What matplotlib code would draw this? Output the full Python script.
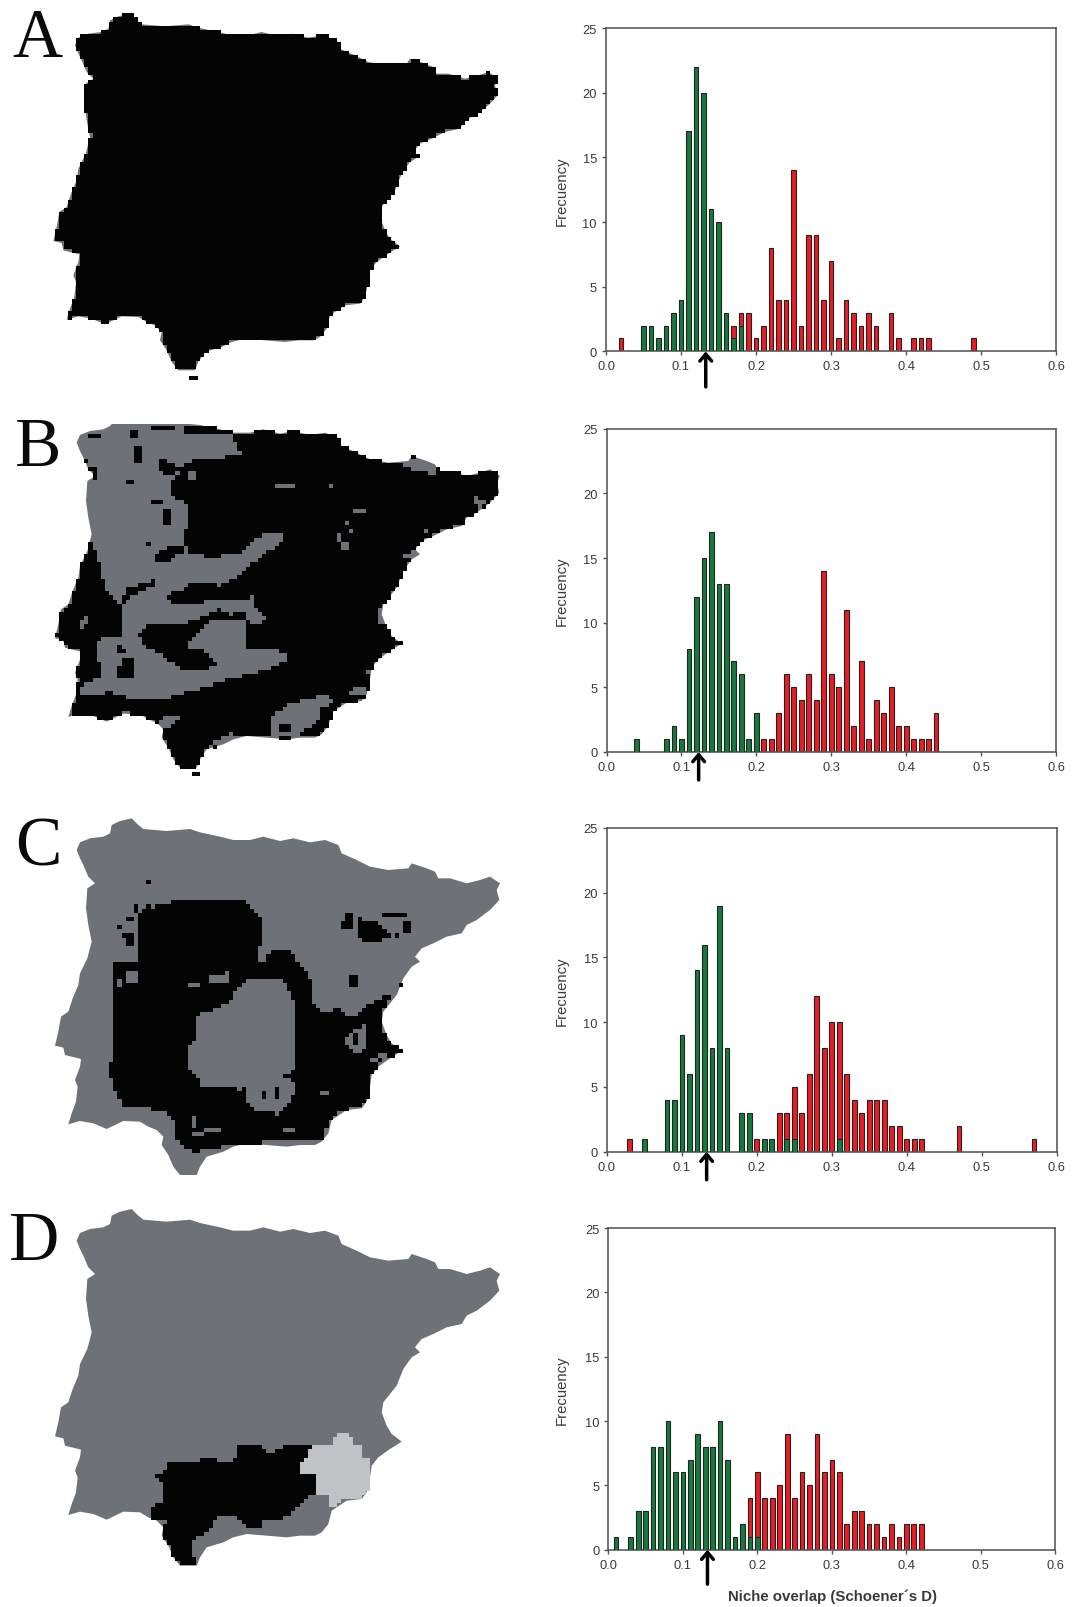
import numpy as np
import matplotlib
matplotlib.use("Agg")
import matplotlib.pyplot as plt
from matplotlib.patches import Polygon, Rectangle
from matplotlib.path import Path

plt.rcParams['font.family'] = ['Liberation Sans', 'DejaVu Sans']

# ---------- histogram data (overlap bin, count) ----------
a_green_x = [.05,.06,.07,.08,.09,.10,.11,.12,.13,.14,.15,.16,.17,.18]
a_green_y = [2,2,1,2,3,4,17,22,20,11,10,3,1,2]
a_red_x = [.02,.17,.18,.19,.20,.21,.22,.23,.24,.25,.26,.27,.28,.29,.30,.31,.32,.33,.34,.35,.36,.38,.39,.41,.42,.43,.49]
a_red_y = [1,2,3,3,1,2,8,4,4,14,2,9,9,4,7,1,4,3,2,3,2,3,1,1,1,1,1]

b_green_x = [.04,.08,.09,.10,.11,.12,.13,.14,.15,.16,.17,.18,.19,.20]
b_green_y = [1,1,2,1,8,12,15,17,13,13,7,6,1,3]
b_red_x = [.21,.22,.23,.24,.25,.26,.27,.28,.29,.30,.31,.32,.33,.34,.35,.36,.37,.38,.39,.40,.41,.42,.43,.44]
b_red_y = [1,1,3,6,5,4,6,4,14,6,5,11,2,7,1,4,3,5,2,2,1,1,1,3]

c_green_x = [.05,.08,.09,.10,.11,.12,.13,.14,.15,.16,.18,.19,.21,.22,.24,.25,.31]
c_green_y = [1,4,4,9,6,14,16,8,19,8,3,3,1,1,1,1,1]
c_red_x = [.03,.20,.23,.24,.25,.26,.27,.28,.29,.30,.31,.32,.33,.34,.35,.36,.37,.38,.39,.40,.41,.42,.47,.57]
c_red_y = [1,1,3,3,5,3,6,12,8,10,10,6,4,3,4,4,4,2,2,1,1,1,2,1]

d_green_x = [.01,.03,.04,.05,.06,.07,.08,.09,.10,.11,.12,.13,.14,.15,.16,.17,.18,.19,.20]
d_green_y = [1,1,3,3,8,8,10,6,6,7,9,8,8,10,7,1,2,1,1]
d_red_x = [.19,.20,.21,.22,.23,.24,.25,.26,.27,.28,.29,.30,.31,.32,.33,.34,.35,.36,.37,.38,.39,.40,.41,.42]
d_red_y = [4,6,4,4,5,9,4,6,5,9,6,7,6,2,3,3,2,2,1,2,1,2,2,2]

arrow_x = [.133, .123, .133, .133]
x_ticks = [0, .1, .2, .3, .4, .5, .6]
y_ticks = [0, 5, 10, 15, 20, 25]
letters = ['A', 'B', 'C', 'D']
x_label = "Niche overlap (Schoener´s D)"
y_label = "Frecuency"

# ---------- Iberia outline and map regions, traced in 3x crop units ----------
outline = [(205,948),(215,915),(228,880),(233,835),(225,815),(240,775),(243,752),(215,745),(195,740),(190,718),
 (165,712),(175,670),(183,625),(205,610),(218,570),(235,530),(240,495),(262,450),(275,400),(265,350),(258,300),
 (262,240),(285,225),(265,205),(250,170),(240,150),(230,125),(240,102),(270,90),(310,85),(330,75),(335,50),
 (360,38),(395,30),(415,50),(430,62),(500,68),(570,62),(600,72),(660,85),(700,95),(750,95),(790,85),(840,98),
 (880,90),(930,102),(975,95),(1015,110),(1025,135),(1070,155),(1110,175),(1165,185),(1225,180),(1235,165),
 (1280,180),(1305,190),(1315,210),(1350,210),(1400,225),(1440,215),(1470,205),(1500,225),(1490,245),(1498,275),
 (1470,305),(1430,335),(1400,350),(1385,375),(1340,385),(1300,405),(1265,420),(1245,445),(1260,460),(1235,475),
 (1210,510),(1190,560),(1170,585),(1150,610),(1145,640),(1160,680),(1175,705),(1205,728),(1170,750),(1135,775),
 (1115,800),(1110,835),(1100,880),(1085,900),(1040,905),(1010,925),(995,935),(985,975),(965,1000),(945,1010),
 (900,1010),(860,1015),(800,1010),(740,1005),(700,1015),(670,1030),(620,1045),(600,1075),(590,1100),(540,1100),
 (520,1075),(505,1040),(485,1010),(490,985),(470,965),(445,955),(420,940),(370,938),(320,962),(280,945),(240,938)]

def box(x0, y0, x1, y1):
    return [(x0,y0),(x1,y0),(x1,y1),(x0,y1)]

b_gray = [
 [(235,110),(330,80),(560,80),(560,105),(690,105),(700,130),(720,165),(650,180),(590,175),(540,210),(510,260),
  (520,295),(560,320),(560,380),(545,400),(545,430),(570,470),(640,475),(720,465),(750,430),(810,400),(845,410),
  (845,425),(790,470),(730,510),(700,540),(660,560),(560,555),(540,580),(470,590),(380,610),(365,590),(355,615),
  (330,590),(310,560),(300,500),(280,450),(275,400),(265,350),(258,250),(250,190)],
 [(360,620),(470,570),(520,620),(590,610),(700,605),(760,595),(770,640),(800,655),(780,675),(735,670),(735,745),
  (830,755),(870,780),(810,810),(690,840),(560,880),(480,905),(390,900),(330,880),(240,890),(225,925),(245,860),
  (310,830),(280,750),(300,715),(360,710),(365,660)],
 [(230,680),(260,655),(265,665),(250,700)],
 [(1205,195),(1240,175),(1300,195),(1305,230),(1230,215)],
 [(810,950),(870,915),(960,890),(1010,900),(950,935),(960,960),(900,1000),(900,1015),(815,1010)],
 [(610,1060),(640,1030),(700,1000),(710,1020),(640,1040)],
 [(470,960),(530,950),(535,965),(500,990),(480,990)],
 [(1050,870),(1100,860),(1095,890),(1050,885)],
 [(1075,830),(1110,810),(1110,825),(1080,835)],
 [(1205,470),(1250,450),(1250,475),(1225,480)],
 [(1265,395),(1295,400),(1265,415)],
 box(825,256,885,270), box(1055,330,1095,343), box(565,222,590,245), box(982,256,996,270),
 box(1132,630,1152,680), [(1415,285),(1450,310),(1430,330),(1415,310)],
 box(1010,405,1022,430), box(1025,425,1045,450), box(1035,368,1045,382), box(1045,390,1057,405),
]
b_black = [
 [(455,490),(480,450),(545,440),(545,460),(500,490)],
 [(415,710),(440,680),(580,670),(650,630),(680,640),(700,660),(620,670),(570,720),(560,750),(600,750),(650,790),
  (620,810),(540,810),(490,770),(440,750)],
 [(350,810),(370,775),(405,775),(405,845),(355,840)],
 [(345,740),(380,750),(380,765),(345,770)],
 [(380,570),(460,545),(470,555),(375,600)],
 box(515,590,590,612), box(700,635,735,670), box(555,85,670,105), box(455,85,520,100),
 box(400,140,425,195), [(480,180),(540,205),(510,240),(480,215)], box(455,305,490,316), box(380,245,405,256),
 box(490,335,515,378), box(245,175,262,240), box(262,205,290,240), box(255,245,268,350), box(835,975,870,995),
 box(385,100,410,118), box(260,105,300,118), box(440,430,455,442),
]

c_black = [
 [(335,510),(350,490),(410,490),(410,345),(470,320),(560,300),(720,300),(750,320),(790,360),(790,440),(770,470),
  (810,460),(870,450),(890,490),(930,540),(930,600),(960,640),(1070,650),(1100,620),(1165,585),(1175,590),
  (1145,630),(1145,690),(1160,720),(1205,750),(1205,770),(1140,785),(1115,830),(1100,900),(1080,930),(1020,935),
  (985,970),(960,1030),(900,1030),(790,1030),(700,1035),(620,1050),(575,1060),(520,1020),(520,960),(490,935),
  (370,925),(340,870),(325,800),(335,780)]]
c_gray = [
 [(590,650),(670,620),(740,545),(850,545),(890,620),(890,800),(860,830),(720,870),(610,865),(560,800),(560,745),(590,710)],
 [(730,880),(750,850),(870,840),(890,880),(830,945),(770,935),(730,900)],
 [(620,530),(690,520),(690,545),(620,560)],
 box(345,535,360,565), box(370,520,415,550),
 [(1030,720),(1065,690),(1100,680),(1100,750),(1060,770)],
 [(570,1000),(660,985),(660,995),(570,1015)],
 [(810,1000),(880,985),(880,995),(810,1005)],
 box(570,950,590,985), box(770,445,800,490), [(1110,775),(1160,760),(1150,775),(1110,790)],
 box(960,875,985,885), box(565,552,605,566),
]
c_black2 = [
 box(780,870,800,905), box(820,860,840,900), box(1060,700,1072,745),
 [(1070,360),(1130,365),(1170,410),(1120,435),(1085,430),(1070,400)],
 box(1035,345,1060,370), box(1025,370,1060,395), box(1040,430,1050,520), box(1045,530,1070,570),
 box(1150,345,1225,356), box(1210,370,1232,400), box(1180,405,1195,415),
 box(443,245,456,258), box(1000,628,1022,638), box(1195,555,1208,580),
 box(345,380,360,392), box(380,355,395,365), box(360,405,395,415), box(380,415,400,440), box(405,320,418,340), box(440,320,455,340),
]

d_black = [[(465,820),(490,820),(505,795),(590,790),(600,780),(700,785),(715,745),(780,745),(800,765),(850,745),(900,733),
 (930,745),(920,775),(895,800),(895,830),(945,830),(945,880),(905,910),(880,940),(830,965),(785,965),(780,990),
 (750,990),(700,945),(665,945),(640,965),(620,1000),(580,1025),(575,1070),(590,1090),(590,1103),(540,1103),
 (520,1075),(505,1040),(485,1010),(490,985),(500,970),(455,960),(455,930),(485,905),(490,860),(470,840)]]
d_light = [[(1005,705),(1045,705),(1060,735),(1085,745),(1085,780),(1110,780),(1115,830),(1105,880),(1090,900),(1025,905),
 (990,930),(980,895),(945,885),(945,830),(895,830),(900,795),(925,760),(935,740),(995,738)]]

GRAY = '#6e7175'
BLACK = '#040404'
LIGHT = '#bfc3c6'
GREEN = '#177a3d'
RED = '#ec1c24'
DARK = '#3a3a3a'
CELL = 12.4

fig = plt.figure(figsize=(10.73, 16.08), dpi=100, facecolor='white')
W, H = 1073, 1608
bg = fig.add_axes([0, 0, 1, 1], zorder=0)

def paint(crop_y, dx, dy, layers, top=None):
    """crop_y: figure-pixel top of the crop; layers: (colour or None, polygons) applied in order."""
    out = np.array(outline, float) + (dx, dy)
    poly = out.copy()
    if top is not None:
        poly[:, 1] = np.maximum(poly[:, 1], top)
    px = poly / 3 + (0, crop_y)
    bg.add_patch(Polygon(px, closed=True, fc=GRAY, ec='none', zorder=1))
    xs = np.arange(140, 1530, CELL)
    ys = np.arange(20, 1160, CELL)
    cx, cy = np.meshgrid(xs + CELL / 2, ys + CELL / 2)
    pts = np.c_[cx.ravel(), cy.ravel()]
    inside = Path(poly).contains_points(pts, radius=-2).reshape(cx.shape)
    rgba = np.zeros(cx.shape + (4,))
    for colour, polys in layers:
        for p in polys:
            if p is outline:
                mask = inside
            else:
                mask = Path(np.array(p, float)).contains_points(pts).reshape(cx.shape) & inside
            if colour is None:
                rgba[mask] = 0
            else:
                rgba[mask] = matplotlib.colors.to_rgba(colour)
    bg.imshow(rgba, extent=(xs[0] / 3, (xs[-1] + CELL) / 3,
                            crop_y + (ys[-1] + CELL) / 3, crop_y + ys[0] / 3),
              interpolation='nearest', aspect='auto', zorder=2)

paint(0, -5, 14, [(BLACK, [outline])])
bg.add_patch(Rectangle((568 / 3, 1130 / 3), 27 / 3, 12 / 3, fc=BLACK, ec='none', zorder=3))

paint(400, 0, 6, [(BLACK, [outline]), (None, b_gray), (BLACK, b_black)], top=75)
bg.add_patch(Rectangle((575 / 3, 400 + 1120 / 3), 25 / 3, 12 / 3, fc=BLACK, ec='none', zorder=3))

paint(800, 0, 28, [(BLACK, c_black), (None, c_gray), (BLACK, c_black2)])
paint(1200, 0, 0, [(BLACK, d_black), (LIGHT, d_light)])

bg.set_xlim(0, W)
bg.set_ylim(H, 0)
bg.axis('off')

letter_xy = [(12, 57), (15, 466), (15, 866), (9, 1260)]
for s, (lx, ly) in zip(letters, letter_xy):
    bg.text(lx, ly, s, family='Liberation Serif', fontsize=50, color='#0a0a0a', ha='left', va='baseline', zorder=5)

# ---------- histograms ----------
frames = [(606, 1056, 29, 352.4), (606.5, 1056, 429.7, 753),
          (607, 1056.5, 829, 1152.7), (608.4, 1055.3, 1229, 1550.7)]
series = [(a_green_x, a_green_y, a_red_x, a_red_y), (b_green_x, b_green_y, b_red_x, b_red_y),
          (c_green_x, c_green_y, c_red_x, c_red_y), (d_green_x, d_green_y, d_red_x, d_red_y)]
tails_px = [35.5, 28, 28, 34.5]

for i, ((x0, x1, t, b), (gx, gy, rx, ry), ax_x, tail) in enumerate(zip(frames, series, arrow_x, tails_px)):
    ax = fig.add_axes([x0 / W, 1 - b / H, (x1 - x0) / W, (b - t) / H], zorder=2)
    ax.patch.set_alpha(0)
    ax.bar(rx, ry, width=0.0063, color=RED, edgecolor='#222222', linewidth=0.8, zorder=2)
    ax.bar(gx, gy, width=0.0063, color=GREEN, edgecolor='#222222', linewidth=0.8, zorder=3)
    ax.set_xlim(0, 0.6)
    ax.set_ylim(0, 25)
    ax.set_xticks(x_ticks)
    ax.set_xticklabels([f'{v:.1f}' for v in x_ticks])
    ax.set_yticks(y_ticks)
    ax.tick_params(length=3, width=1.0, color='#555555', labelcolor=DARK, labelsize=9.3, pad=3.5)
    for s in ax.spines.values():
        s.set_color('#555555')
        s.set_linewidth(1.15)
    ax.set_ylabel(y_label, fontsize=10.7, color=DARK)
    ax.yaxis.set_label_coords((569 - x0) / (x1 - x0), 0.5)
    ax.annotate('', xy=(ax_x, 0), xycoords=('data', 'axes fraction'),
                xytext=(ax_x, -tail / (b - t)), textcoords=('data', 'axes fraction'),
                arrowprops=dict(arrowstyle='->,head_length=0.5,head_width=0.42', lw=2.5, color='black',
                                shrinkA=0, shrinkB=0), annotation_clip=False, zorder=6)
    if i == 3:
        ax.text((832 - x0) / (x1 - x0), -(1601.5 - b) / (b - t), x_label, transform=ax.transAxes,
                ha='center', va='baseline', fontsize=10.85, fontweight='bold', color=DARK)

fig.savefig('out.png', dpi=100, facecolor='white')
